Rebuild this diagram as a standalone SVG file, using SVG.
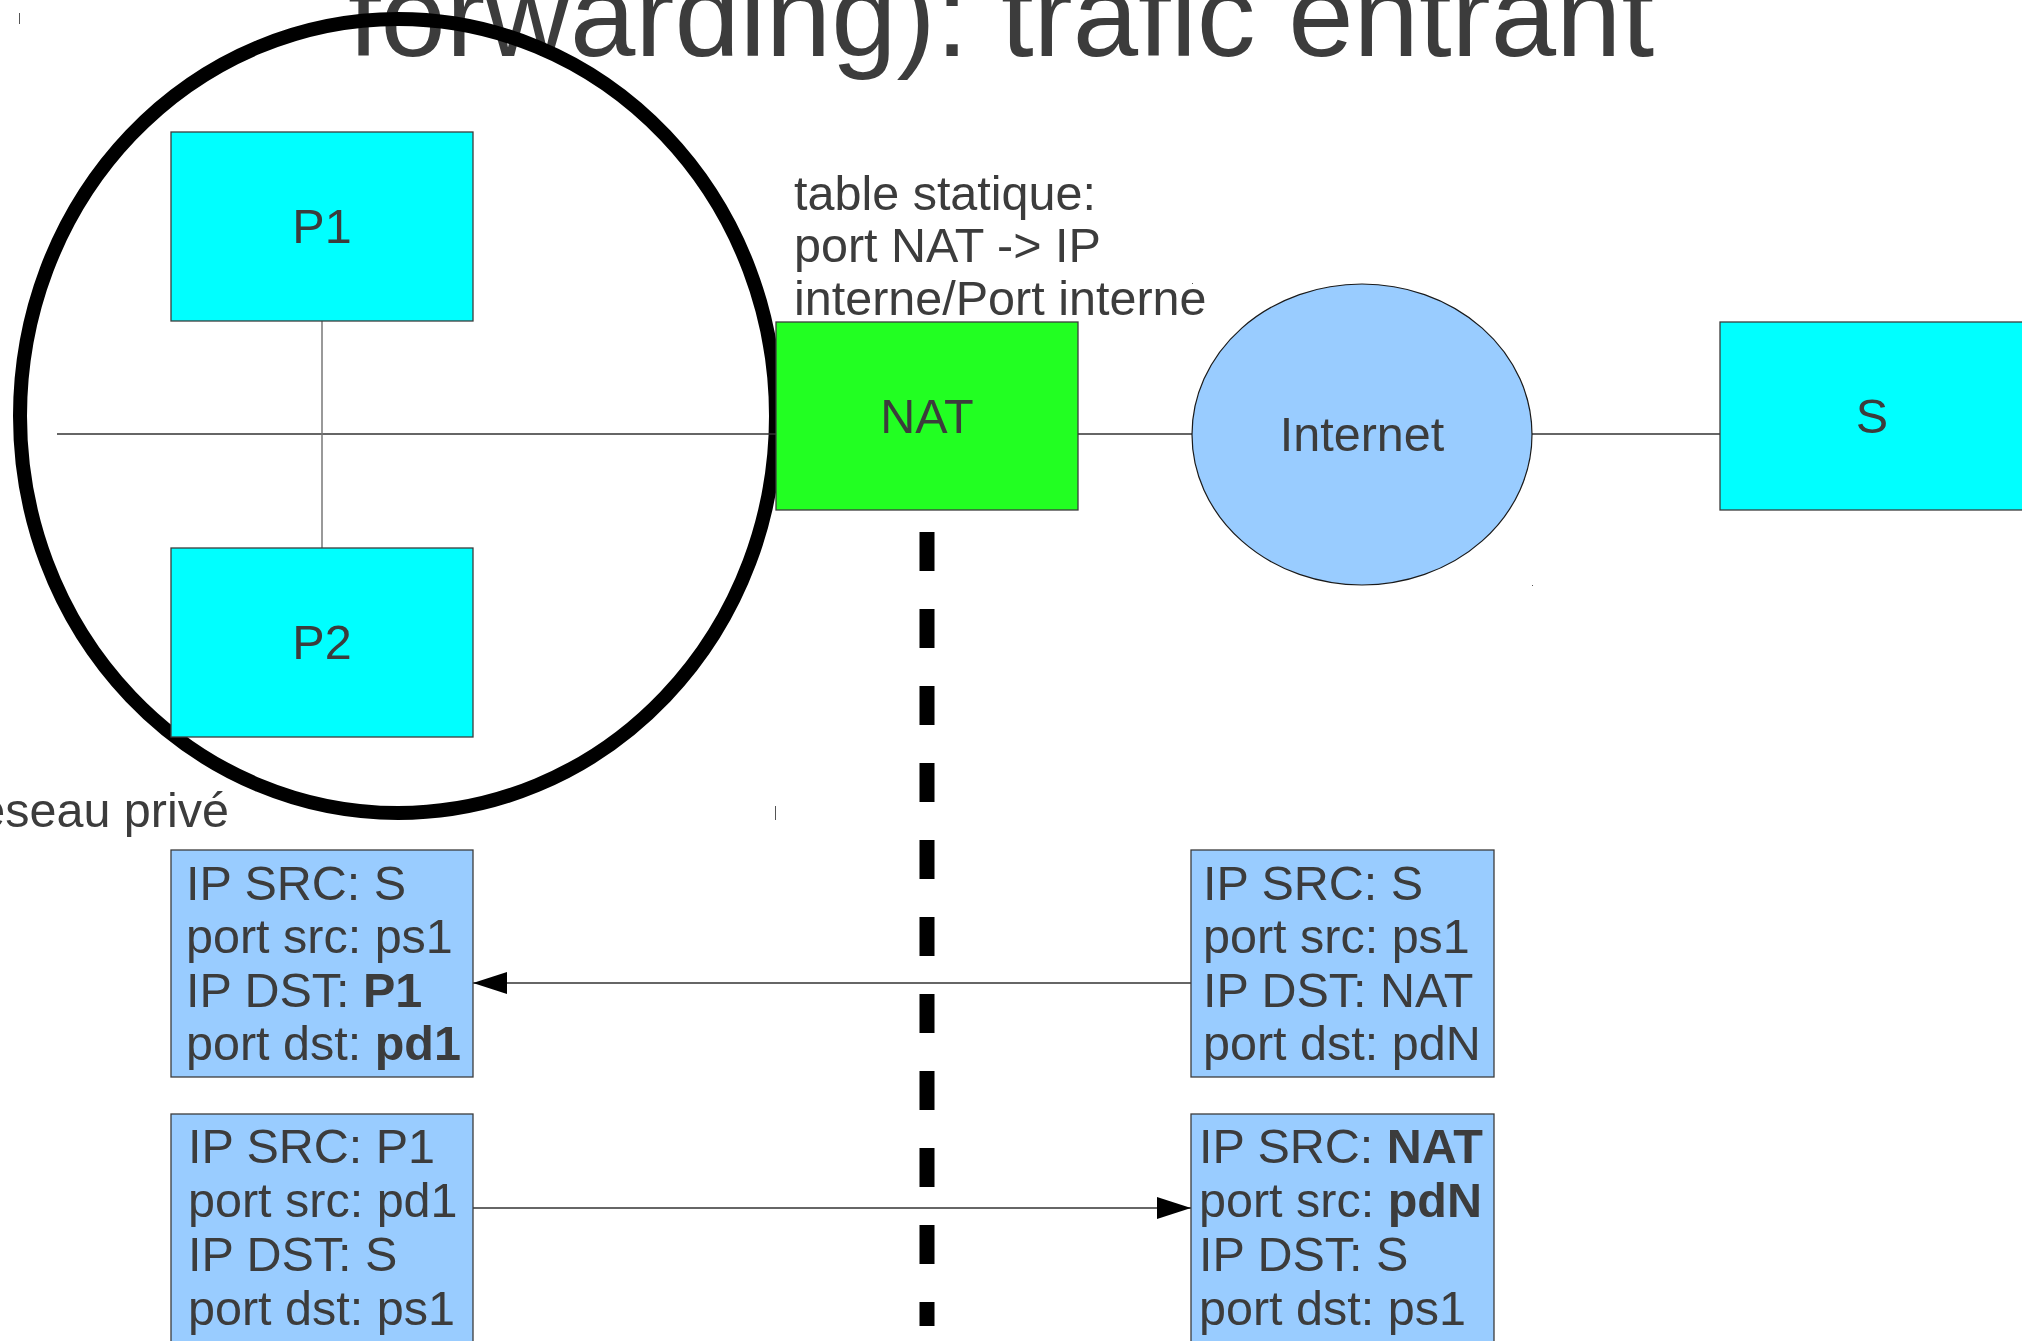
<svg xmlns="http://www.w3.org/2000/svg" width="2022" height="1341" viewBox="0 0 2022 1341">
<style>
text{font-family:"Liberation Sans",Arial,sans-serif;fill:#3c3c3c;font-size:48.5px}
.lbl{text-anchor:middle}
.node{stroke:#3c3c3c;stroke-width:1.3}
.host{fill:#00ffff}
.pkt{fill:#99ccff}
.wire{stroke:#333333;stroke-width:1.5;fill:none}
.b{font-weight:bold}
</style>
<defs>
<marker id="ah" viewBox="0 0 34 22" refX="34" refY="11" markerWidth="34" markerHeight="22" markerUnits="userSpaceOnUse" orient="auto">
<path d="M0,0 L34,11 L0,22 Z" fill="#000000"/>
</marker>
</defs>
<rect width="2022" height="1341" fill="#ffffff"/>
<text x="1001" y="56" class="lbl" style="font-size:117.5px">forwarding): trafic entrant</text>
<g id="private-network">
<ellipse cx="398" cy="416" rx="378" ry="397" fill="none" stroke="#000000" stroke-width="14"/>
<text x="229" y="827" style="text-anchor:end">réseau privé</text>
</g>
<g id="connectors">
<line class="wire" x1="57" y1="434" x2="776" y2="434"/>
<line x1="322" y1="321" x2="322" y2="548" stroke="#777777" stroke-width="1.5"/>
<line class="wire" x1="1078" y1="434" x2="1192" y2="434"/>
<line class="wire" x1="1532" y1="434" x2="1720" y2="434"/>
<line class="wire" x1="1191" y1="983" x2="473" y2="983" marker-end="url(#ah)"/>
<line class="wire" x1="473" y1="1208" x2="1191" y2="1208" marker-end="url(#ah)"/>
<line x1="927" y1="532" x2="927" y2="1326" stroke="#000000" stroke-width="15" stroke-dasharray="39 38"/>
</g>
<g id="P1">
<rect class="node host" x="171" y="132" width="302" height="189"/>
<text x="322" y="243" class="lbl">P1</text>
</g>
<g id="P2">
<rect class="node host" x="171" y="548" width="302" height="189"/>
<text x="322" y="659" class="lbl">P2</text>
</g>
<g id="NAT">
<rect class="node" x="776" y="322" width="302" height="188" fill="#22ff22"/>
<text x="927" y="433" class="lbl">NAT</text>
</g>
<g id="nat-table">
<text x="794" y="210">table statique:</text>
<text x="794" y="262">port NAT -&gt; IP</text>
<text x="794" y="315">interne/Port interne</text>
</g>
<g id="Internet">
<ellipse cx="1362" cy="434.5" rx="170" ry="150.5" fill="#99ccff" stroke="#1a1a1a" stroke-width="1.2"/>
<text x="1362" y="451" class="lbl">Internet</text>
</g>
<g id="S">
<rect class="node host" x="1720" y="322" width="304" height="188"/>
<text x="1872" y="433" class="lbl">S</text>
</g>
<g id="pkt-in-private">
<rect class="node pkt" x="171" y="850" width="302" height="227"/>
<text x="186" y="900">IP SRC: S</text>
<text x="186" y="953">port src: ps1</text>
<text x="186" y="1007">IP DST: <tspan class="b">P1</tspan></text>
<text x="186" y="1060">port dst: <tspan class="b">pd1</tspan></text>
</g>
<g id="pkt-in-public">
<rect class="node pkt" x="1191" y="850" width="303" height="227"/>
<text x="1203" y="900">IP SRC: S</text>
<text x="1203" y="953">port src: ps1</text>
<text x="1203" y="1007">IP DST: NAT</text>
<text x="1203" y="1060">port dst: pdN</text>
</g>
<g id="pkt-out-private">
<rect class="node pkt" x="171" y="1114" width="302" height="240"/>
<text x="188" y="1163">IP SRC: P1</text>
<text x="188" y="1217">port src: pd1</text>
<text x="188" y="1271">IP DST: S</text>
<text x="188" y="1325">port dst: ps1</text>
</g>
<g id="pkt-out-public">
<rect class="node pkt" x="1191" y="1114" width="303" height="240"/>
<text x="1199" y="1163">IP SRC: <tspan class="b">NAT</tspan></text>
<text x="1199" y="1217">port src: <tspan class="b">pdN</tspan></text>
<text x="1199" y="1271">IP DST: S</text>
<text x="1199" y="1325">port dst: ps1</text>
</g>
<g id="marks" stroke="#555555" stroke-width="1">
<line x1="19.5" y1="13" x2="19.5" y2="24"/>
<line x1="775.5" y1="806" x2="775.5" y2="820"/>
<rect x="1192" y="283" width="1" height="1" fill="#555555" stroke="none"/>
<rect x="1532" y="585" width="1" height="1" fill="#555555" stroke="none"/>
</g>
</svg>
